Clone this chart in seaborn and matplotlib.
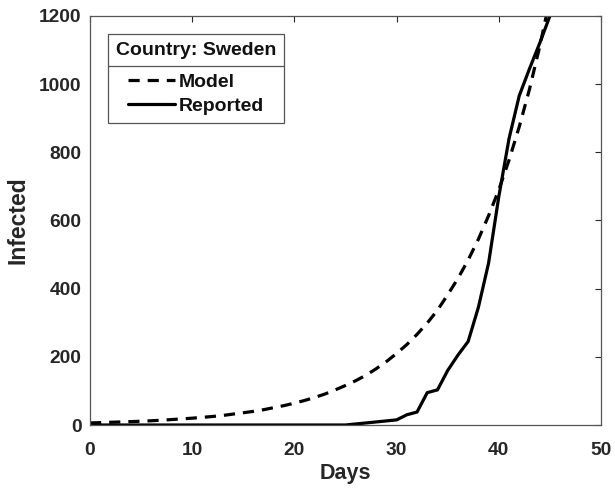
import numpy as np
import pandas as pd
import matplotlib
matplotlib.use("Agg")
import matplotlib.pyplot as plt
import seaborn as sns
from matplotlib.lines import Line2D

days = list(range(0, 46))
model = [6, 7, 8, 9, 10, 11, 12.5, 14, 16, 18, 20, 22.5, 25, 28, 32, 36, 40, 45, 51, 57,
         64, 72, 81, 91, 103, 116, 130, 146, 165, 186, 210, 236, 266, 299, 337, 382, 430,
         484, 545, 614, 690, 777, 875, 985, 1110, 1250]
reported = [0, 0, 0, 0, 0, 0, 0, 0, 0, 0, 0, 0, 0, 0, 0, 0, 0, 0, 0, 0,
            0, 0, 0, 0, 0, 0, 3, 6, 9, 12, 15, 30, 38, 95, 103, 160, 205, 245, 345, 475,
            670, 840, 966, 1045, 1120, 1200]

legend_title = "Country: Sweden"
series_names = ["Model", "Reported"]
x_label = "Days"
y_label = "Infected"
x_ticks = [0, 10, 20, 30, 40, 50]
y_ticks = [0, 200, 400, 600, 800, 1000, 1200]

df = pd.DataFrame({
    "Days": days * 2,
    "Infected": model + reported,
    "Series": [series_names[0]] * len(days) + [series_names[1]] * len(days),
})

sns.set_theme(style="white")
plt.rcParams["font.family"] = ["Liberation Sans", "DejaVu Sans"]
plt.rcParams["font.weight"] = "bold"

fig = plt.figure(figsize=(6.15, 4.95), dpi=100)
ax = fig.add_axes([90 / 615, 1 - 425 / 495, (601 - 90) / 615, (425 - 16) / 495])

sns.lineplot(data=df, x="Days", y="Infected", hue="Series", style="Series",
             palette={"Model": "black", "Reported": "black"},
             dashes={"Model": (3.5, 2.5), "Reported": ""},
             linewidth=2.3, ax=ax, legend=False)

ax.set_xlim(0, 50)
ax.set_ylim(0, 1200)
ax.set_xticks(x_ticks)
ax.set_yticks(y_ticks)
tick_color = "#262626"
ax.tick_params(direction="in", length=4, width=0.8, top=True, right=True,
               colors=tick_color, labelsize=13.75)
ax.tick_params(axis="x", pad=12)
ax.tick_params(axis="y", pad=6)
for lab in ax.get_xticklabels() + ax.get_yticklabels():
    lab.set_fontweight("bold")
for s in ax.spines.values():
    s.set_visible(True)
    s.set_color("#555555")
    s.set_linewidth(0.9)

ax.set_xlabel(x_label, fontsize=15.5, fontweight="bold", color=tick_color, labelpad=3)
ax.set_ylabel(y_label, fontsize=16.5, fontweight="bold", color=tick_color, labelpad=7)

handles = [Line2D([], [], color="black", lw=2.3, dashes=(3.5, 2.5)),
           Line2D([], [], color="black", lw=2.3)]
leg = ax.legend(handles, series_names, title=legend_title, loc="upper left",
                bbox_to_anchor=((108 - 90) / 511, (425 - 34) / 409), borderaxespad=0,
                fancybox=False, frameon=True, edgecolor="#555555", framealpha=1,
                handlelength=2.45, handletextpad=0.2, borderpad=0.4,
                labelspacing=0.35, prop={"size": 14, "weight": "bold"},
                title_fontproperties={"size": 14, "weight": "bold"})
leg.get_frame().set_linewidth(0.9)
for t in leg.get_texts():
    t.set_color("#111111")
leg.get_title().set_color("#111111")
leg._legend_box.sep = leg._legend_box.sep + 5.5

fig.canvas.draw()
bb = leg.get_window_extent()
tb = leg.get_title().get_window_extent()
first = leg.get_texts()[0].get_window_extent()
ysep = (tb.y0 + first.y1) / 2
fig.add_artist(Line2D([bb.x0 / 615, bb.x1 / 615], [ysep / 495, ysep / 495],
                      transform=fig.transFigure, color="#555555", lw=0.9))

fig.savefig("out.png", dpi=100)
